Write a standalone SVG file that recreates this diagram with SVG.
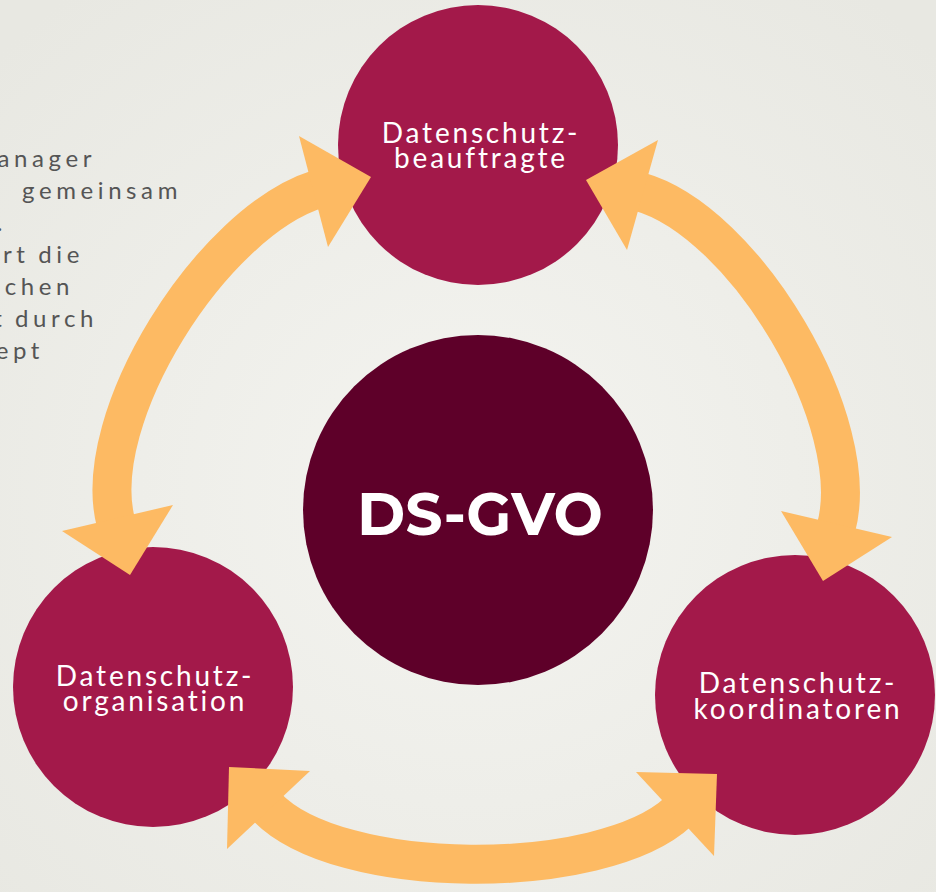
<svg xmlns="http://www.w3.org/2000/svg" width="936" height="892" viewBox="0 0 936 892">
<defs>
<radialGradient id="bg" cx="50%" cy="55%" r="70%">
<stop offset="0" stop-color="#f4f4f0"/>
<stop offset="1" stop-color="#e8e8e2"/>
</radialGradient>
<style>
.node{fill:#a3194a}
.core{fill:#5e0029}
.lbl{font-family:Lato,"Liberation Sans",sans-serif;font-size:28px;fill:#ffffff;text-anchor:middle;letter-spacing:2.8px}
.core-lbl{font-family:Montserrat,Lato,"Liberation Sans",sans-serif;font-weight:bold;font-size:60px;fill:#ffffff;text-anchor:middle}
.shaft{fill:none;stroke:#fdba63;stroke-width:39}
.head{fill:#fdba63}
.side{font-family:Lato,"Liberation Sans",sans-serif;font-size:24px;fill:#555555;text-anchor:end;letter-spacing:4.6px;word-spacing:-2px}
</style>
</defs>
<rect width="936" height="892" fill="url(#bg)"/>
<g id="side-text" class="side">
<text x="96" y="167">anager</text>
<text x="182" y="199">gemeinsam</text>
<text x="7" y="231">.</text>
<text x="84" y="263">ert die</text>
<text x="74" y="295">chen</text>
<text x="98" y="327">t durch</text>
<text x="44" y="359">ept</text>
</g>
<g id="node-center">
<circle class="core" cx="478" cy="510" r="175"/>
<text class="core-lbl" x="480" y="535" textLength="246" lengthAdjust="spacingAndGlyphs">DS-GVO</text>
</g>
<g id="node-top">
<circle class="node" cx="478" cy="145" r="140"/>
<text class="lbl" x="481" y="143">Datenschutz-</text>
<text class="lbl" x="481" y="168">beauftragte</text>
</g>
<g id="node-left">
<circle class="node" cx="153" cy="687" r="140"/>
<text class="lbl" x="155" y="686">Datenschutz-</text>
<text class="lbl" x="155" y="711">organisation</text>
</g>
<g id="node-right">
<circle class="node" cx="795" cy="695" r="140"/>
<text class="lbl" x="798" y="693">Datenschutz-</text>
<text class="lbl" x="798" y="719">koordinatoren</text>
</g>
<g id="connectors">
<path class="shaft" d="M116,523 C88,418 212,222 318,189"/>
<polygon class="head" points="371,177 299,136 328,247"/>
<polygon class="head" points="130,575 62,531 173,505"/>
<path class="shaft" d="M836,528 C865,423 745,221 639,191.6"/>
<polygon class="head" points="586,180 658,140 627,250"/>
<polygon class="head" points="823,581 781,511 892,537"/>
<path class="shaft" d="M266,806 C337.5,882.5 602,883 678.6,811.6"/>
<polygon class="head" points="229,767 310,771 227,849"/>
<polygon class="head" points="717,774 636,772 714,856"/>
</g>
</svg>
